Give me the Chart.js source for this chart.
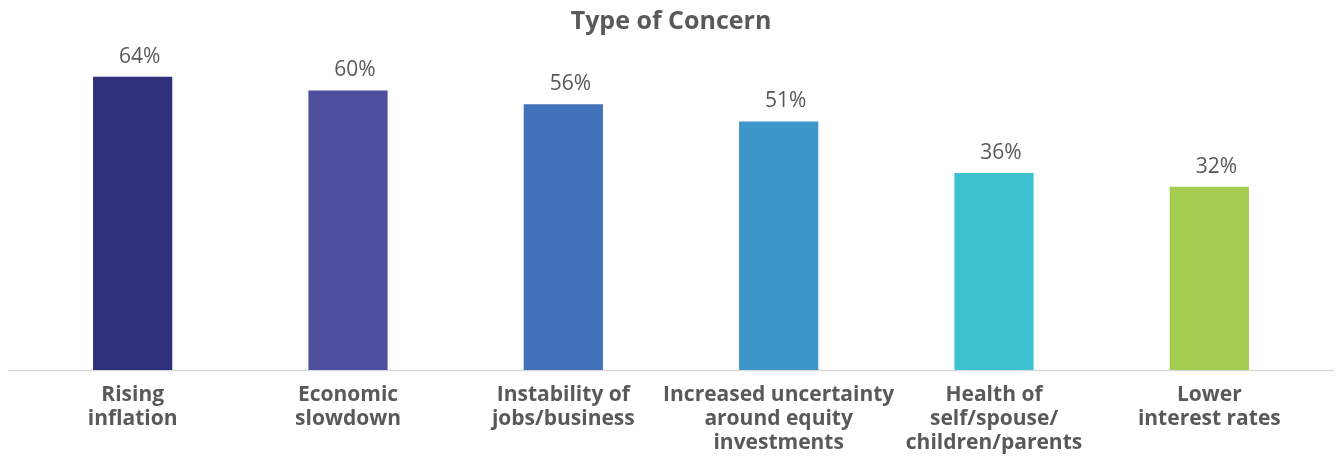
<!DOCTYPE html>
<html>
<head>
<meta charset="utf-8">
<script src="https://cdn.jsdelivr.net/npm/chart.js@4.4.1/dist/chart.umd.min.js"></script>
<style>
  html, body { margin: 0; padding: 0; background: #fff; }
  #wrap { width: 1339px; height: 459px; }
</style>
</head>
<body>
<div id="wrap"><canvas id="myChart"></canvas></div>
<script>
// data
const categories = [
    ['Rising', 'inflation'],
    ['Economic', 'slowdown'],
    ['Instability of', 'jobs/business'],
    ['Increased uncertainty', 'around equity', 'investments'],
    ['Health of', 'self/spouse/', 'children/parents'],
    ['Lower', 'interest rates']
];
const concernValues = [64, 60, 56, 51, 36, 32];
const barColors = ['#302f7a', '#4f4e9e', '#4273b8', '#3d96ca', '#3ec1cf', '#a4cc4f'];

// the original axis does not start at zero
const yMin = -21.2;
const yMax = 70;

const textGrey = '#595959';
const fontName = "'Open Sans', sans-serif";

// value labels above the bars
const valueLabels = {
    id: 'valueLabels',
    afterDatasetsDraw(chart) {
        const ctx = chart.ctx;
        const meta = chart.getDatasetMeta(0);
        ctx.save();
        ctx.font = '21px ' + fontName;
        ctx.fillStyle = textGrey;
        ctx.textAlign = 'center';
        ctx.textBaseline = 'middle';
        meta.data.forEach(function(bar, i) {
            ctx.fillText(concernValues[i] + '%', bar.x + 7, bar.y - 20);
        });
        ctx.restore();
    }
};

// long grey baseline across the whole width
const baseLine = {
    id: 'baseLine',
    beforeDatasetsDraw(chart) {
        const ctx = chart.ctx;
        const y = chart.chartArea.bottom + 0.5;
        ctx.save();
        ctx.strokeStyle = '#d9d9d9';
        ctx.lineWidth = 1.5;
        ctx.beginPath();
        ctx.moveTo(8, y);
        ctx.lineTo(1334, y);
        ctx.stroke();
        ctx.restore();
    }
};

const ctx1 = document.getElementById('myChart');
new Chart(ctx1, {
    type: 'bar',
    data: {
        labels: categories,
        datasets: [{
            label: 'Type of Concern',
            data: concernValues,
            backgroundColor: barColors,
            base: yMin,
            borderWidth: 0,
            barPercentage: 1,
            categoryPercentage: 0.368
        }]
    },
    options: {
        responsive: true,
        maintainAspectRatio: false,
        animation: false,
        layout: {
            padding: { left: 25, right: 22, top: 0, bottom: 0 }
        },
        plugins: {
            legend: { display: false },
            tooltip: { enabled: false },
            title: {
                display: true,
                text: 'Type of Concern',
                color: textGrey,
                font: { family: fontName, size: 25, weight: 'bold', lineHeight: 1.2 },
                padding: { top: 7, bottom: 19 }
            }
        },
        scales: {
            x: {
                grid: { display: false, drawTicks: false },
                border: { display: false },
                ticks: {
                    color: textGrey,
                    padding: 13,
                    autoSkip: false,
                    maxRotation: 0,
                    font: { family: fontName, size: 21, weight: 'bold', lineHeight: '24px' }
                },
                afterFit: function(scale) { scale.height = 89; }
            },
            y: {
                display: false,
                min: yMin,
                max: yMax
            }
        }
    },
    plugins: [valueLabels, baseLine]
});
</script>
</body>
</html>
